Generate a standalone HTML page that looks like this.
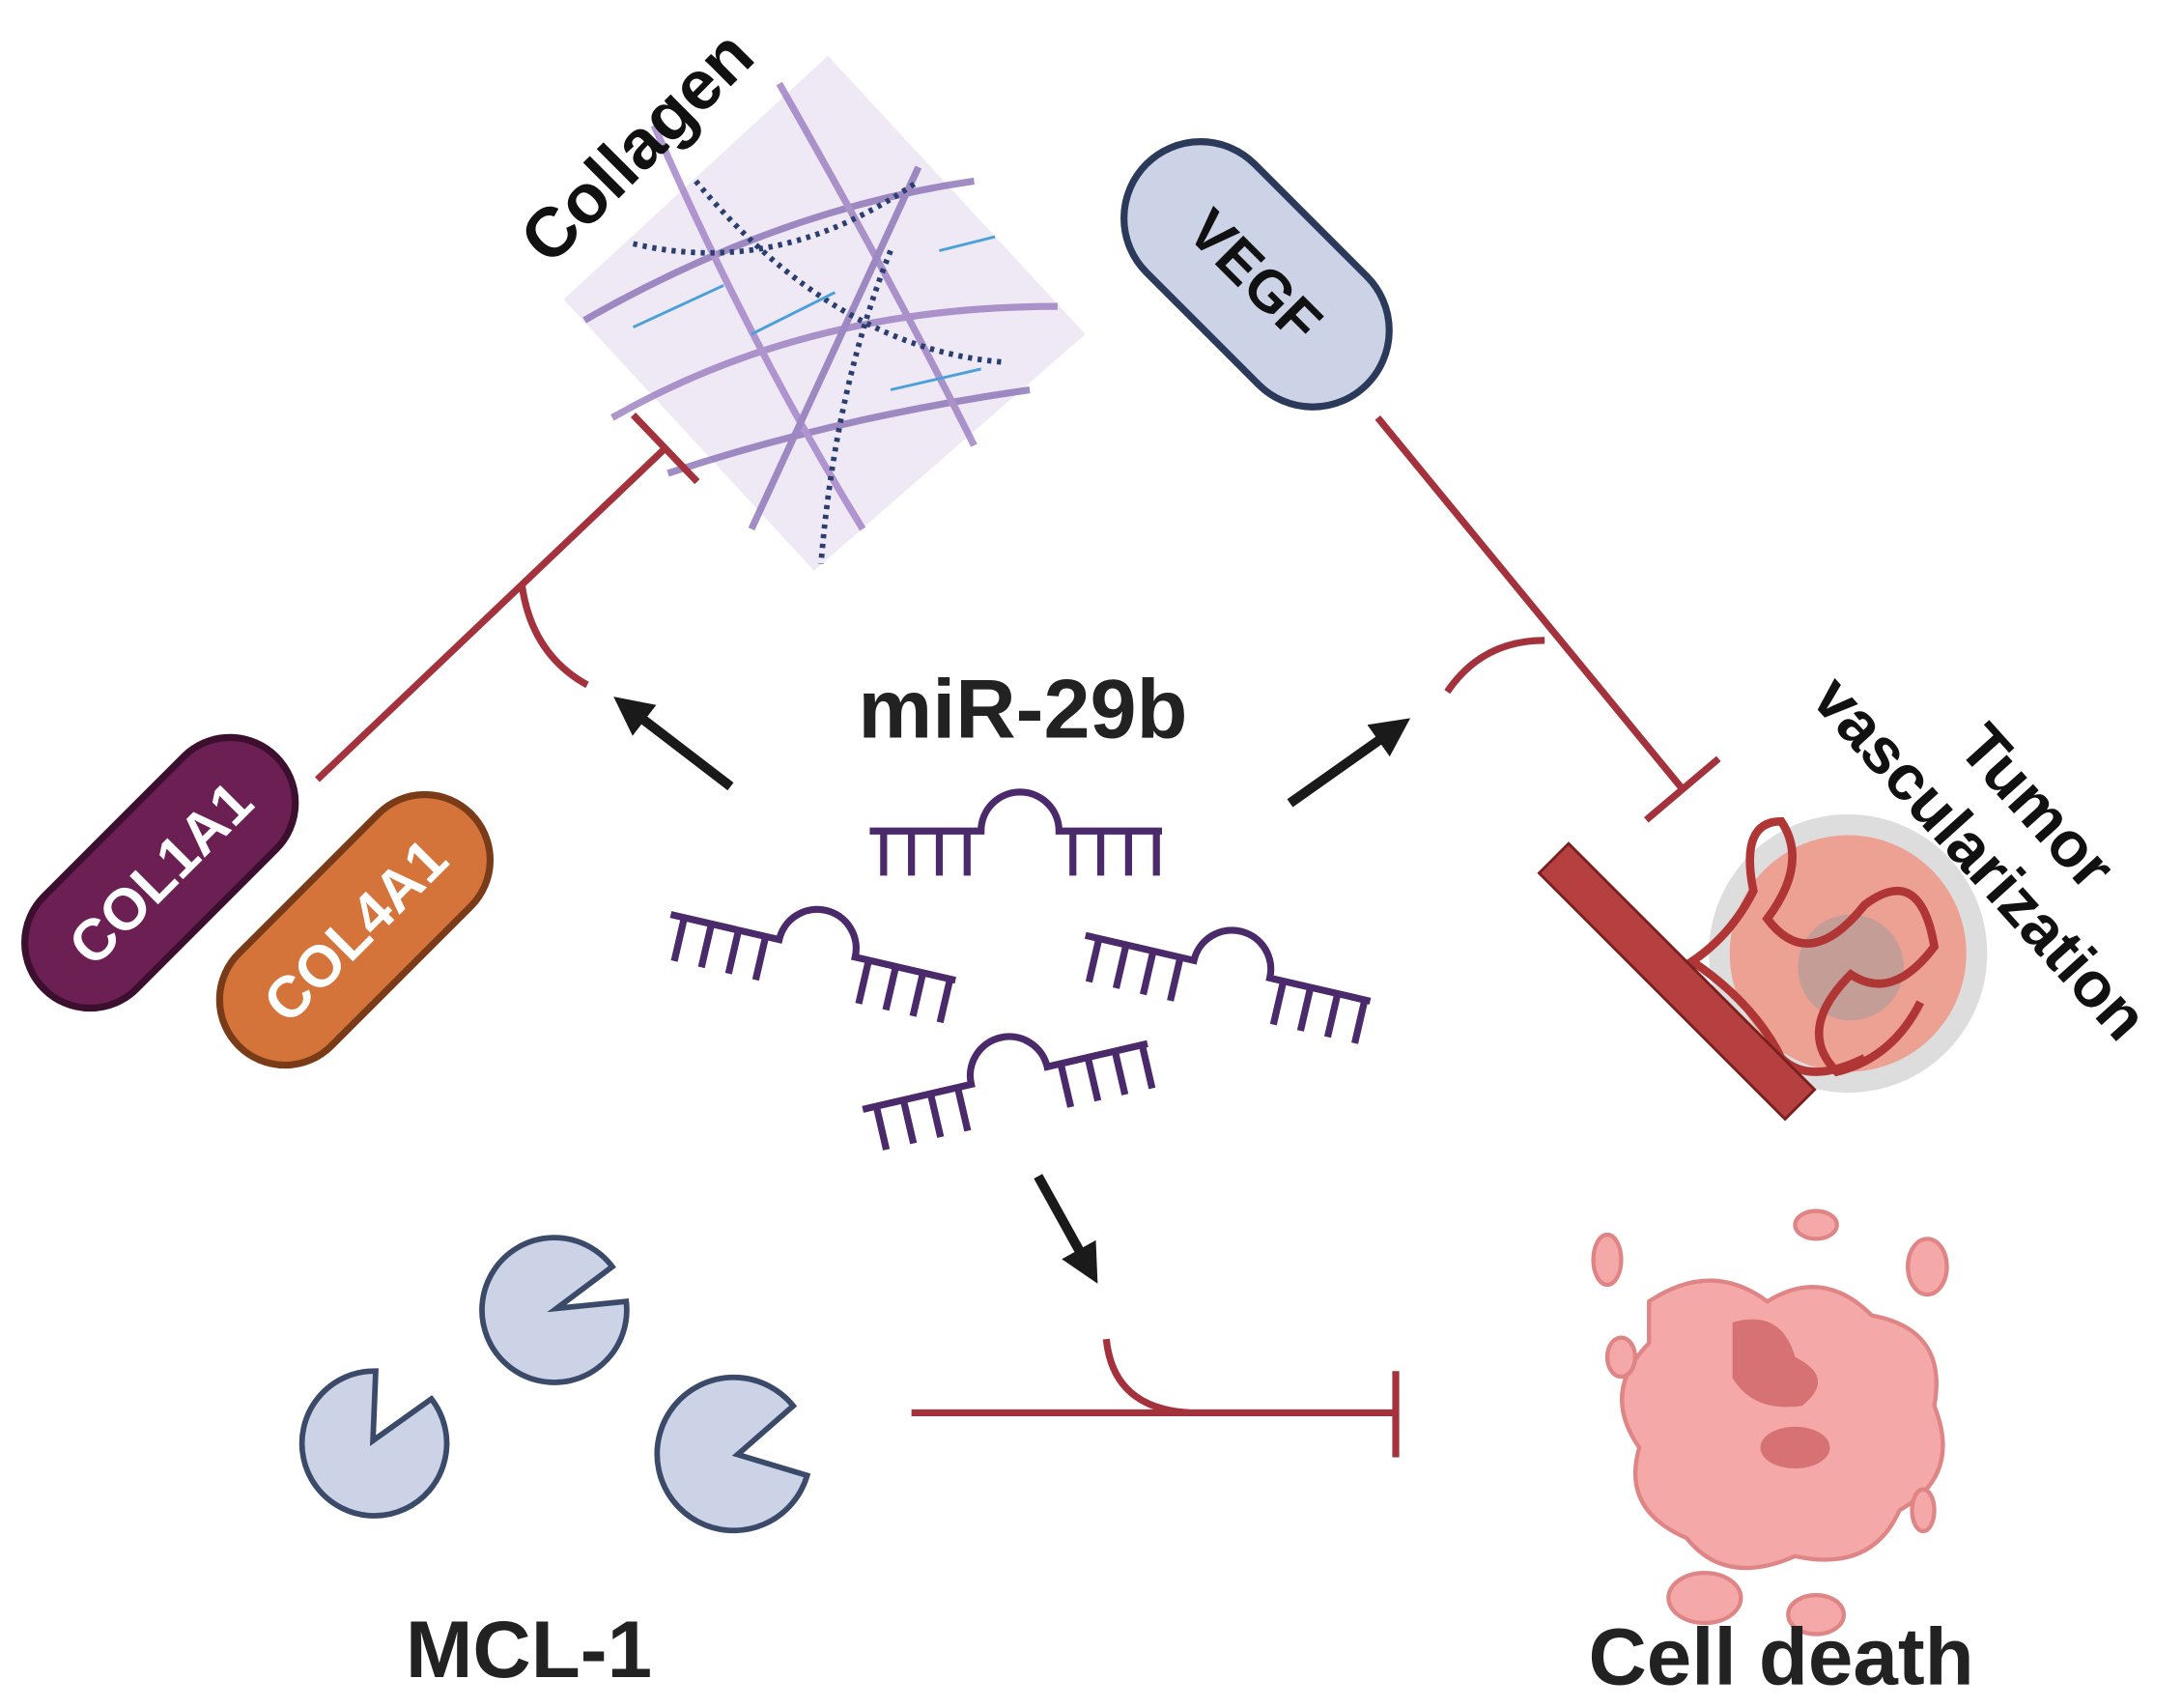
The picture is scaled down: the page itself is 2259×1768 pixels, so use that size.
<!DOCTYPE html>
<html><head><meta charset="utf-8"><style>html,body{margin:0;padding:0;background:#fff}svg{display:block}</style></head><body>
<svg width="2259" height="1768" viewBox="0 0 1568 1227" xmlns="http://www.w3.org/2000/svg" font-family="Liberation Sans, sans-serif">
<defs>
<marker id="ah" viewBox="0 0 10 10" refX="5" refY="5" markerWidth="4" markerHeight="4" orient="auto"><path d="M0,0 L10,5 L0,10 z" fill="#1a1a1a"/></marker>
<g id="rna"><path d="M0,0 H80 A28,28 0 0 1 136,0 H210" fill="none" stroke="#4a2a6a" stroke-width="5"/><g stroke="#4a2a6a" stroke-width="5"><line x1="10" y1="0" x2="10" y2="32"/><line x1="30" y1="0" x2="30" y2="32"/><line x1="50" y1="0" x2="50" y2="32"/><line x1="70" y1="0" x2="70" y2="32"/><line x1="146" y1="0" x2="146" y2="32"/><line x1="166" y1="0" x2="166" y2="32"/><line x1="186" y1="0" x2="186" y2="32"/><line x1="206" y1="0" x2="206" y2="32"/></g></g>
</defs>
<polygon points="595,40 780,240 585,410 405,215" fill="#efe9f5"/>
<g fill="none" stroke-width="5" opacity="0.8">
<path d="M420,230 Q560,150 700,130" stroke="#8a70b5"/>
<path d="M440,300 Q580,220 760,220" stroke="#9a7cc0"/>
<path d="M480,340 Q600,300 740,280" stroke="#8a70b5"/>
<path d="M470,90 Q540,250 620,380" stroke="#a080c8"/>
<path d="M560,60 Q640,200 700,320" stroke="#9a7cc0"/>
<path d="M660,120 Q600,250 540,380" stroke="#8a70b5"/>
</g>
<g fill="none" stroke="#2a3f70" stroke-width="4" stroke-dasharray="3,4">
<path d="M455,175 Q560,200 660,130"/><path d="M500,130 Q600,250 720,260"/><path d="M640,180 Q600,280 590,405"/>
</g>
<g stroke="#4aa0d8" stroke-width="2"><line x1="455" y1="235" x2="520" y2="205"/><line x1="540" y1="240" x2="600" y2="210"/><line x1="640" y1="280" x2="705" y2="265"/><line x1="675" y1="180" x2="715" y2="170"/></g>
<text x="0" y="0" transform="translate(395,192) rotate(-45)" font-size="50" font-weight="bold" fill="#111">Collagen</text>
<g transform="translate(903,197) rotate(45)"><rect x="-112" y="-55" width="224" height="110" rx="55" fill="#ccd3e6" stroke="#2b3a5a" stroke-width="5"/><text x="0" y="16" text-anchor="middle" font-size="42" font-weight="bold" fill="#111">VEGF</text></g>
<g stroke="#a3323c" stroke-width="5" fill="none">
<line x1="228" y1="560" x2="478" y2="322"/><line x1="455" y1="298" x2="501" y2="346"/>
<path d="M375,420 Q382,470 422,492"/>
<line x1="990" y1="300" x2="1210" y2="568"/><line x1="1183" y1="589" x2="1235" y2="545"/>
<path d="M1110,460 Q1065,460 1040,497"/>
<line x1="655" y1="1015" x2="1003" y2="1015"/><line x1="1003" y1="985" x2="1003" y2="1047"/>
<path d="M795,962 Q800,1012 855,1015"/>
</g>
<g stroke="#1a1a1a" stroke-width="7" marker-end="url(#ah)">
<line x1="525" y1="565" x2="452" y2="509"/><line x1="927" y1="577" x2="1002" y2="524"/><line x1="746" y1="845" x2="782" y2="910"/>
</g>
<text x="735" y="530" text-anchor="middle" font-size="60" font-weight="bold" fill="#222">miR-29b</text>
<use href="#rna" transform="translate(625,597)"/>
<use href="#rna" transform="translate(482,657) rotate(13)"/>
<use href="#rna" transform="translate(780,672) rotate(13)"/>
<use href="#rna" transform="translate(620,797) rotate(-13)"/>
<g transform="translate(115,627) rotate(-45)"><rect x="-118" y="-47" width="236" height="94" rx="47" fill="#6b1f52" stroke="#3d0f2e" stroke-width="5"/><text x="0" y="15" text-anchor="middle" font-size="42" font-weight="bold" fill="#fff">COL1A1</text></g>
<g transform="translate(255,668) rotate(-45)"><rect x="-118" y="-47" width="236" height="94" rx="47" fill="#d4743a" stroke="#7a3c18" stroke-width="5"/><text x="0" y="15" text-anchor="middle" font-size="42" font-weight="bold" fill="#fff">COL4A1</text></g>
<g fill="#ccd3e6" stroke="#3c4a6a" stroke-width="4">
<path d="M400,940 L450,935 A52,52 0 1 1 440,910 Z"/>
<path d="M268,1035 L270,985 A52,52 0 1 0 310,1005 Z"/>
<path d="M530,1045 L580,1060 A55,55 0 1 1 570,1010 Z"/>
</g>
<text x="380" y="1205" text-anchor="middle" font-size="58" font-weight="bold" fill="#222">MCL-1</text>
<g fill="#f4a8a8" stroke="#e08585" stroke-width="3">
<path d="M1185,935 Q1230,905 1270,935 Q1310,910 1345,945 Q1400,955 1390,1010 Q1410,1060 1365,1085 Q1345,1130 1290,1118 Q1240,1140 1212,1105 Q1165,1085 1178,1040 Q1150,1000 1185,965 Z"/>
<ellipse cx="1155" cy="905" rx="10" ry="18"/><ellipse cx="1305" cy="880" rx="15" ry="10"/><ellipse cx="1385" cy="910" rx="14" ry="20"/><ellipse cx="1165" cy="975" rx="10" ry="14"/><ellipse cx="1225" cy="1148" rx="26" ry="18"/><ellipse cx="1305" cy="1160" rx="20" ry="14"/><ellipse cx="1382" cy="1085" rx="8" ry="15"/>
</g>
<path d="M1245,950 Q1280,940 1290,975 Q1320,990 1295,1010 Q1260,1015 1245,990 Z" fill="#d77274"/>
<ellipse cx="1290" cy="1040" rx="25" ry="15" fill="#d77274"/>
<text x="1280" y="1210" text-anchor="middle" font-size="58" font-weight="bold" fill="#222">Cell death</text>
<circle cx="1328" cy="685" r="100" fill="#ddd"/>
<circle cx="1328" cy="685" r="85" fill="#eca193"/>
<circle cx="1330" cy="695" r="38" fill="#999" opacity="0.5"/>
<g fill="none" stroke="#b03535" stroke-width="6">
<path d="M1200,700 Q1240,680 1260,640 Q1250,590 1280,590 Q1300,620 1270,660 Q1300,700 1340,650 Q1380,620 1390,680 Q1360,720 1330,700 Q1290,740 1320,770 Q1360,760 1380,720"/>
<path d="M1215,690 Q1260,720 1280,760 Q1300,780 1340,760"/>
</g>
<g transform="translate(1205,705) rotate(45)"><rect x="-125" y="-15" width="250" height="30" fill="#b5403f" stroke="#7a2020" stroke-width="2"/></g>
<g transform="translate(1430,610) rotate(48)" font-size="46" font-weight="bold" fill="#111" text-anchor="middle"><text x="0" y="-30">Tumor</text><text x="0" y="25">vascularization</text></g>
</svg>
</body></html>
